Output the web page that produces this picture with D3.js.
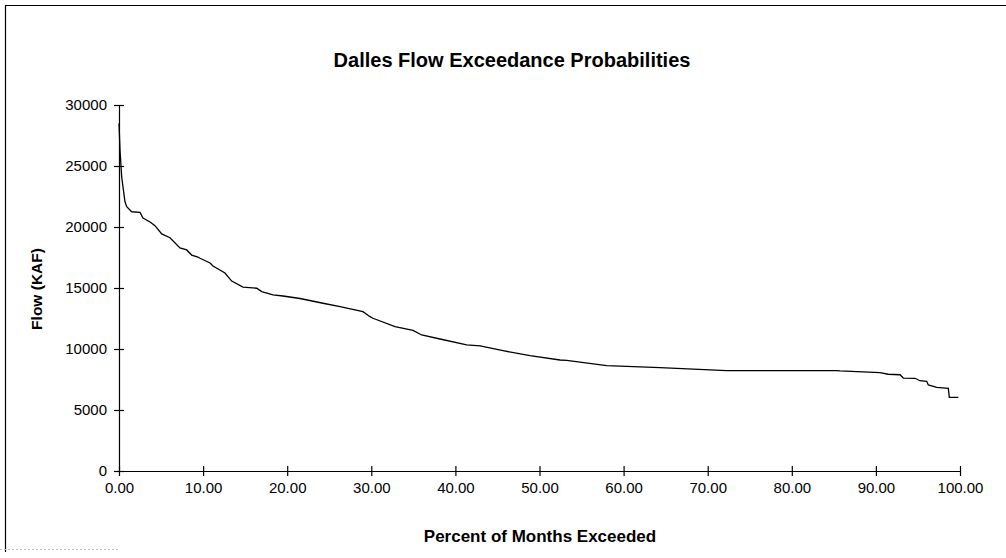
<!DOCTYPE html>
<html>
<head>
<meta charset="utf-8">
<script src="https://cdn.jsdelivr.net/npm/d3@7"></script>
<style>
  html, body { margin: 0; padding: 0; background: #fff; }
  svg { display: block; }
</style>
</head>
<body>
<svg id="chart" width="1006" height="558"></svg>
<script>
const titleText = "Dalles Flow Exceedance Probabilities";
const xLabel = "Percent of Months Exceeded";
const yLabel = "Flow (KAF)";
const xTicks = [0, 10, 20, 30, 40, 50, 60, 70, 80, 90, 100];
const yTicks = [0, 5000, 10000, 15000, 20000, 25000, 30000];

const pctExceeded = [0.00, 0.12, 0.32, 0.71, 0.92, 1.51, 2.50, 2.85, 3.69, 4.28, 5.08, 6.06, 7.25, 8.05, 8.64, 9.39,
  9.63, 10.82, 11.18, 12.60, 13.40, 14.74, 16.37, 16.97, 18.31, 19.50, 21.52, 24.26, 26.28, 29.01, 29.85, 30.20,
  32.82, 34.96, 35.99, 38.17, 41.34, 42.93, 45.66, 48.87, 52.44, 53.23, 57.99, 64.33, 72.26, 85.34, 85.73, 90.49,
  91.47, 92.87, 93.26, 94.65, 95.24, 96.04, 96.23, 97.23, 98.61, 98.73, 99.80];
const flowKAF = [28500, 26300, 24100, 22070, 21660, 21250, 21200, 20740, 20410, 20110, 19430, 19120, 18280, 18120, 17700, 17540,
  17435, 17050, 16800, 16230, 15570, 15080, 14980, 14700, 14430, 14345, 14140, 13750, 13470, 13060, 12650, 12520,
  11830, 11520, 11150, 10820, 10330, 10250, 9860, 9450, 9100, 9060, 8630, 8470, 8220, 8220, 8200, 8070,
  7930, 7890, 7620, 7600, 7400, 7350, 7050, 6860, 6780, 6040, 6040];

const svg = d3.select("#chart");
const font = "'Liberation Sans', Arial, Helvetica, sans-serif";

// frame (scanned partial border)
svg.append("line").attr("x1", 5.5).attr("y1", 6).attr("x2", 5.5).attr("y2", 552)
  .attr("stroke", "#000").attr("stroke-width", 1.2);
svg.append("line").attr("x1", 5).attr("y1", 5.5).attr("x2", 1006).attr("y2", 5.5)
  .attr("stroke", "#000").attr("stroke-width", 1.2);
svg.append("line").attr("x1", 0).attr("y1", 549.5).attr("x2", 120).attr("y2", 549.5)
  .attr("stroke", "#bbb").attr("stroke-width", 1).attr("stroke-dasharray", "2,2");

const x = d3.scaleLinear().domain([0, 100]).range([119, 960]);
const y = d3.scaleLinear().domain([0, 30000]).range([471, 105]);

// y axis
const gy = svg.append("g").attr("transform", "translate(119,0)")
  .call(d3.axisLeft(y).tickValues(yTicks).tickFormat(d3.format("d")).tickSizeInner(5).tickSizeOuter(0).tickPadding(6));
gy.select(".domain").attr("stroke", "#000").attr("stroke-width", 1.2);
gy.selectAll(".tick line").attr("x1", 5).attr("x2", -5).attr("stroke", "#000").attr("stroke-width", 1.2);
gy.selectAll(".tick text").attr("font-family", font).attr("font-size", 15).attr("fill", "#000").attr("x", -12);

// x axis
const gx = svg.append("g").attr("transform", "translate(0,471)")
  .call(d3.axisBottom(x).tickValues(xTicks).tickFormat(d3.format(".2f")).tickSizeInner(5).tickSizeOuter(0).tickPadding(6));
gx.select(".domain").attr("stroke", "#000").attr("stroke-width", 1.2);
gx.selectAll(".tick line").attr("y1", -5).attr("y2", 5).attr("stroke", "#000").attr("stroke-width", 1.2);
gx.selectAll(".tick text").attr("font-family", font).attr("font-size", 15).attr("fill", "#000").attr("y", 11);

// data line
const pts = pctExceeded.map((p, i) => [p, flowKAF[i]]);
svg.append("path").datum(pts)
  .attr("fill", "none").attr("stroke", "#000").attr("stroke-width", 1.3)
  .attr("d", d3.line().x(d => x(d[0])).y(d => y(d[1])).curve(d3.curveLinear));

// title and labels
svg.append("text").attr("x", 512).attr("y", 67).attr("text-anchor", "middle")
  .attr("font-family", font).attr("font-weight", "bold").attr("font-size", 20).text(titleText);
svg.append("text").attr("x", 540).attr("y", 542).attr("text-anchor", "middle")
  .attr("font-family", font).attr("font-weight", "bold").attr("font-size", 17).text(xLabel);
svg.append("text").attr("transform", "translate(42,289) rotate(-90)").attr("text-anchor", "middle")
  .attr("font-family", font).attr("font-weight", "bold").attr("font-size", 15.5).text(yLabel);
</script>
</body>
</html>
